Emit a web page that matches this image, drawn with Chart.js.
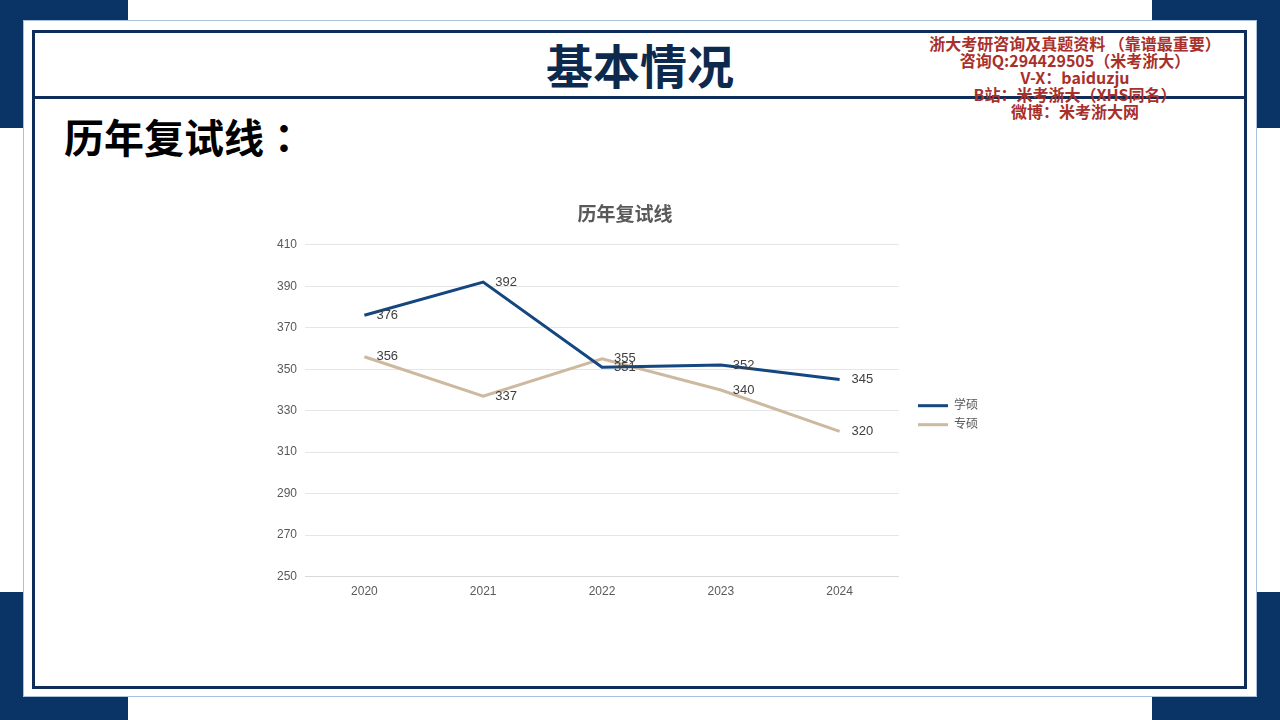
<!DOCTYPE html>
<html>
<head>
<meta charset="utf-8">
<script src="https://cdn.jsdelivr.net/npm/chart.js@4"></script>
<style>
  html, body { margin: 0; padding: 0; background: #fff; }
  body { width: 1280px; height: 720px; position: relative; overflow: hidden;
         font-family: "Noto Sans CJK SC", "Liberation Sans", sans-serif; }
  .blk { position: absolute; background: #0b3466; }
  #outer { position: absolute; left: 23px; top: 20px; width: 1232px; height: 675px;
           background: #fff; border: 1px solid #a9c1dd; }
  #inner { position: absolute; left: 32px; top: 30px; width: 1209px; height: 653px;
           border: 3px solid #0e2d5a; }
  #rule { position: absolute; left: 35px; top: 96px; width: 1209px; height: 3px; background: #0e2d5a; }
  #title { position: absolute; left: 0; width: 1280px; top: 32px; text-align: center;
           font-size: 47px; font-weight: 700; color: #0d2a4e; line-height: 64px; }
  #sub { position: absolute; left: 64px; top: 108px; font-size: 40px; font-weight: 700;
         color: #000; line-height: 56px; }
  #sub span { font-family: "Noto Sans CJK TC", sans-serif; }
  #mark { position: absolute; left: 875px; width: 400px; top: 35px; text-align: center;
          font-size: 16px; font-weight: 700; color: #a8302c; line-height: 17px; }
  #wrap { position: absolute; left: 260px; top: 195px; width: 730px; height: 412px; }
</style>
</head>
<body>
<div class="blk" style="left:0;top:0;width:128px;height:128px"></div>
<div class="blk" style="left:1152px;top:0;width:128px;height:128px"></div>
<div class="blk" style="left:0;top:592px;width:128px;height:128px"></div>
<div class="blk" style="left:1152px;top:592px;width:128px;height:128px"></div>
<div id="outer"></div>
<div id="inner"></div>
<div id="rule"></div>
<div id="title">基本情况</div>
<div id="sub">历年复试线<span>：</span></div>
<div id="mark">浙大考研咨询及真题资料 （靠谱最重要）<br>咨询Q:294429505（米考浙大）<br>V-X：baiduzju<br>B站：米考浙大（XHS同名）<br>微博：米考浙大网</div>
<div id="wrap"><canvas id="grafico" width="730" height="412"></canvas></div>
<script>
// Datos del gráfico
const years = ['2020', '2021', '2022', '2023', '2024'];
const xueshuo = [376, 392, 351, 352, 345];
const zhuanshuo = [356, 337, 355, 340, 320];
const yTicks = [250, 270, 290, 310, 330, 350, 370, 390, 410];

const fontFam = '"Liberation Sans", "Noto Sans CJK SC", sans-serif';

// Etiquetas de valores a la derecha de cada punto
const etiquetas = {
    id: 'etiquetas',
    afterDatasetsDraw(chart) {
        const ctx = chart.ctx;
        ctx.save();
        ctx.font = '13px ' + fontFam;
        ctx.fillStyle = '#404040';
        ctx.textAlign = 'left';
        ctx.textBaseline = 'middle';
        chart.data.datasets.forEach((ds, i) => {
            chart.getDatasetMeta(i).data.forEach((pt, j) => {
                ctx.fillText(String(ds.data[j]), pt.x + 12, pt.y);
            });
        });
        ctx.restore();
    }
};

new Chart(document.getElementById('grafico'), {
    type: 'line',
    data: {
        labels: years,
        datasets: [{
            label: '学硕',
            data: xueshuo,
            borderColor: '#14467f',
            backgroundColor: '#14467f',
            borderWidth: 3,
            pointRadius: 0,
            tension: 0
        }, {
            label: '专硕',
            data: zhuanshuo,
            borderColor: '#cdb99f',
            backgroundColor: '#cdb99f',
            borderWidth: 3,
            pointRadius: 0,
            tension: 0
        }]
    },
    options: {
        responsive: false,
        animation: false,
        layout: { padding: { left: 2, right: 2, top: 0, bottom: 0 } },
        plugins: {
            title: {
                display: true,
                text: '历年复试线',
                color: '#595959',
                font: { size: 19, weight: 'bold', family: fontFam },
                padding: { top: 9, bottom: 18 }
            },
            legend: {
                position: 'right',
                title: { display: true, text: ' ', font: { size: 12 }, padding: { top: 7, bottom: 7 } },
                labels: {
                    usePointStyle: true,
                    pointStyle: 'line',
                    pointStyleWidth: 30,
                    boxWidth: 30,
                    padding: 7,
                    color: '#595959',
                    font: { size: 12, family: fontFam }
                }
            },
            tooltip: { enabled: false }
        },
        scales: {
            x: {
                offset: true,
                grid: { display: false, drawTicks: false },
                border: { display: true, color: '#d9d9d9', width: 1 },
                ticks: { color: '#595959', font: { size: 12, family: fontFam }, padding: 8 }
            },
            y: {
                min: 250,
                max: 410,
                afterBuildTicks(scale) { scale.ticks = yTicks.map(v => ({ value: v })); },
                afterFit(scale) { scale.width = 43; },
                grid: { color: '#e6e6e6', drawTicks: false },
                border: { display: false },
                ticks: { color: '#595959', font: { size: 12, family: fontFam }, padding: 8 }
            },
            // hueco entre el área del gráfico y la leyenda
            hueco: {
                type: 'linear',
                position: 'right',
                display: true,
                grid: { display: false, drawTicks: false },
                border: { display: false },
                ticks: { display: false },
                afterFit(scale) { scale.width = 12; }
            }
        }
    },
    plugins: [etiquetas]
});
</script>
</body>
</html>
